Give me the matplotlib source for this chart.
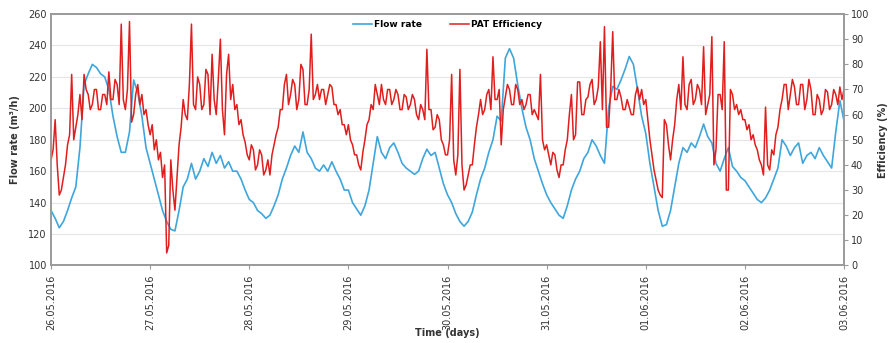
import numpy as np
import pandas as pd
import matplotlib
matplotlib.use("Agg")
import matplotlib.pyplot as plt
import matplotlib.dates as mdates

# flow rate, hourly readings, 26.05.2016 00:00 -> 03.06.2016 00:00
flow_rate = [
    # 26.05
    135, 130, 124, 128, 135, 143, 150, 175, 215, 222, 228, 226,
    222, 220, 212, 195, 182, 172, 172, 185, 218, 210, 195, 175,
    # 27.05
    165, 155, 145, 135, 128, 123, 122, 135, 150, 155, 165, 155,
    160, 168, 163, 172, 165, 170, 162, 166, 160, 160, 155, 148,
    # 28.05
    142, 140, 135, 133, 130, 132, 138, 145, 155, 162, 170, 176,
    172, 185, 172, 168, 162, 160, 164, 160, 166, 160, 155, 148,
    # 29.05
    148, 140, 136, 132, 138, 148, 165, 182, 172, 168, 175, 178,
    172, 165, 162, 160, 158, 160, 168, 174, 170, 172, 162, 152,
    # 30.05
    145, 140, 133, 128, 125, 128, 134, 145, 155, 162, 172, 180,
    195, 192, 232, 238, 232, 215, 200, 188, 180, 168, 160, 152,
    # 31.05
    145, 140, 136, 132, 130, 138, 148, 155, 160, 168, 172, 180,
    176, 170, 165, 200, 214, 212, 218, 225, 233, 228, 212, 195,
    # 01.06
    184, 165, 150, 135, 125, 126, 135, 150, 165, 175, 172, 178,
    175, 182, 190, 182, 178, 165, 160, 168, 175, 163, 160, 156,
    # 02.06
    154, 150, 146, 142, 140, 143, 148, 155, 162, 180, 176, 170,
    175, 178, 165, 170, 172, 168, 175, 170, 166, 162, 185, 205,
    # 03.06
    192,
]

# PAT efficiency (%), half-hourly readings over the same period
pat_efficiency = [
    # 26.05
    42, 46, 58, 40, 28, 30, 35, 40, 48, 52, 76, 50,
    55, 60, 68, 58, 76, 70, 68, 62, 64, 70, 70, 62,
    62, 68, 68, 64, 77, 66, 66, 74, 72, 64, 96, 66,
    62, 70, 97, 57, 60, 68, 72, 64, 68, 60, 62, 56,
    # 27.05
    52, 56, 46, 50, 42, 45, 35, 40, 5, 8, 42, 30,
    22, 35, 48, 55, 66, 60, 58, 72, 96, 64, 62, 75,
    72, 62, 64, 78, 76, 60, 84, 66, 60, 74, 90, 62,
    52, 76, 84, 66, 72, 62, 64, 56, 58, 52, 49, 44,
    # 28.05
    42, 48, 46, 38, 40, 46, 44, 36, 38, 42, 36, 44,
    48, 52, 55, 62, 62, 72, 76, 64, 68, 74, 72, 62,
    66, 80, 78, 64, 64, 70, 92, 66, 68, 72, 66, 70,
    70, 64, 68, 72, 71, 64, 64, 60, 62, 56, 56, 52,
    # 29.05
    56, 50, 48, 44, 44, 40, 38, 45, 50, 56, 58, 64,
    62, 72, 68, 64, 72, 66, 64, 70, 70, 64, 66, 70,
    68, 62, 62, 68, 67, 62, 64, 68, 66, 60, 58, 64,
    62, 58, 86, 62, 62, 54, 55, 60, 58, 50, 48, 44,
    # 30.05
    44, 50, 76, 42, 36, 44, 78, 40, 30, 32, 36, 40,
    40, 48, 55, 60, 66, 60, 62, 68, 70, 62, 83, 66,
    66, 70, 48, 62, 67, 72, 70, 64, 64, 72, 70, 64,
    66, 62, 64, 68, 68, 60, 62, 60, 58, 76, 50, 46,
    # 31.05
    48, 44, 40, 45, 44, 38, 35, 40, 40, 46, 50, 60,
    68, 50, 52, 73, 73, 60, 60, 66, 67, 72, 74, 64,
    66, 71, 89, 62, 95, 55, 55, 70, 93, 66, 66, 70,
    67, 62, 62, 66, 63, 60, 60, 68, 71, 66, 70, 64,
    # 01.06
    66, 58, 50, 44, 38, 34, 30, 28, 27, 58, 56, 48,
    42, 50, 56, 66, 72, 62, 83, 64, 62, 72, 74, 64,
    66, 72, 70, 64, 87, 60, 64, 68, 91, 40, 46, 68,
    68, 62, 89, 30, 30, 70, 68, 62, 64, 60, 62, 58,
    # 02.06
    58, 54, 56, 50, 52, 48, 46, 42, 40, 36, 63, 40,
    38, 46, 44, 52, 55, 62, 66, 72, 72, 62, 68, 74,
    71, 64, 64, 72, 72, 62, 66, 74, 70, 60, 60, 68,
    66, 60, 62, 70, 69, 62, 64, 70, 68, 64, 71, 66,
    # 03.06
    70,
]

flow_time = pd.date_range("2016-05-26", periods=len(flow_rate), freq="h")
eff_time = pd.date_range("2016-05-26", periods=len(pat_efficiency), freq="30min")
day_ticks = pd.date_range("2016-05-26", "2016-06-03", freq="D")

fig = plt.figure(figsize=(8.89, 3.43), dpi=100)
ax = fig.add_axes([0.0574, 0.226, 0.8920, 0.733])
ax2 = ax.twinx()

blue = "#3ea6dc"
red = "#e01e1e"
grey = "#9a9a9a"

l1, = ax.plot(flow_time, flow_rate, color=blue, lw=1.2, label="Flow rate")
l2, = ax2.plot(eff_time, pat_efficiency, color=red, lw=1.1, label="PAT Efficiency")

ax.set_ylim(100, 260)
ax.set_yticks(np.arange(100, 261, 20))
ax2.set_ylim(0, 100)
ax2.set_yticks(np.arange(0, 101, 10))
ax.set_xlim(day_ticks[0], day_ticks[-1])
ax.set_xticks(day_ticks)
ax.xaxis.set_major_formatter(mdates.DateFormatter("%d.%m.%Y"))
for lab in ax.get_xticklabels():
    lab.set_rotation(90)

ax.grid(axis="y", color="#e6e6e6", lw=0.8)
ax.set_axisbelow(True)

for a in (ax, ax2):
    for sp in a.spines.values():
        sp.set_color(grey)
        sp.set_linewidth(1.2)
ax.tick_params(axis="y", length=0, labelsize=7, colors="#333333", pad=3)
ax.tick_params(axis="x", length=3, color=grey, labelsize=7, colors="#333333")
ax2.tick_params(axis="y", length=3, color=grey, labelsize=7, colors="#333333", pad=2)

ax.set_ylabel("Flow rate (m\u00b3/h)", fontsize=7, fontweight="bold", color="#333333", labelpad=6)
ax2.set_ylabel("Efficiency (%)", fontsize=7, fontweight="bold", color="#333333", labelpad=6)
ax.set_xlabel("Time (days)", fontsize=7, fontweight="bold", color="#333333")
ax.xaxis.set_label_coords(0.5, -0.27)
ax.xaxis.label.set_va("center")

ax2.legend(handles=[l1, l2], loc="upper center", ncol=2, frameon=False,
           prop={"weight": "bold", "size": 6.5}, handlelength=2.1,
           handletextpad=0.2, columnspacing=3.2, borderaxespad=0.3,
           bbox_to_anchor=(0.5, 1.0))

fig.savefig("out.png", dpi=100)
